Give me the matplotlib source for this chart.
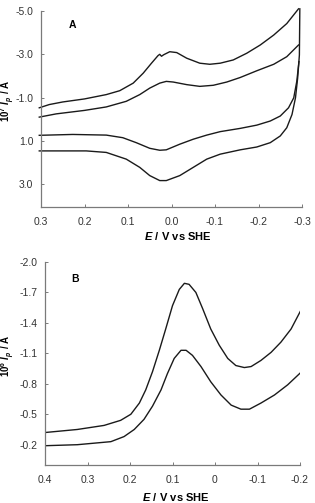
import matplotlib
matplotlib.use("Agg")
import matplotlib.pyplot as plt

plt.rcParams['font.family'] = ['Liberation Sans', 'DejaVu Sans']
plt.rcParams['mathtext.fontset'] = 'custom'
plt.rcParams['mathtext.rm'] = 'Liberation Sans:bold'
plt.rcParams['mathtext.it'] = 'Liberation Sans:italic:bold'
plt.rcParams['mathtext.bf'] = 'Liberation Sans:bold'

# ---- Panel A: cyclic voltammograms (10^7 I / A vs E / V) ----
a_outer_upper_E = [0.304, 0.281, 0.250, 0.200, 0.150, 0.119, 0.088, 0.065, 0.046, 0.031, 0.027,
                   0.023, 0.018, 0.004, -0.012, -0.035, -0.065, -0.088, -0.112, -0.142, -0.173,
                   -0.204, -0.235, -0.265, -0.292]
a_outer_upper_I = [-0.53, -0.68, -0.80, -0.94, -1.14, -1.32, -1.67, -2.13, -2.59, -2.94, -3.00,
                   -2.91, -2.98, -3.12, -3.08, -2.82, -2.59, -2.54, -2.59, -2.74, -3.05,
                   -3.43, -3.89, -4.42, -5.10]

a_inner_upper_E = [0.304, 0.265, 0.200, 0.150, 0.104, 0.073, 0.050, 0.027, 0.012, -0.004,
                   -0.035, -0.065, -0.096, -0.127, -0.158, -0.196, -0.235, -0.265, -0.292]
a_inner_upper_I = [-0.10, -0.25, -0.41, -0.57, -0.83, -1.14, -1.44, -1.67, -1.75, -1.72,
                   -1.60, -1.52, -1.57, -1.72, -1.93, -2.24, -2.54, -2.89, -3.43]

a_inner_lower_E = [0.304, 0.227, 0.150, 0.112, 0.081, 0.050, 0.027, 0.012, -0.019, -0.050,
                   -0.081, -0.112, -0.158, -0.196, -0.227, -0.250, -0.269, -0.281, -0.288, -0.293]
a_inner_lower_I = [0.74, 0.70, 0.73, 0.85, 1.08, 1.34, 1.43, 1.41, 1.15, 0.92,
                   0.73, 0.57, 0.42, 0.27, 0.08, -0.15, -0.53, -0.99, -1.75, -2.66]

a_outer_lower_E = [0.304, 0.196, 0.150, 0.104, 0.073, 0.050, 0.027, 0.012, -0.019, -0.050,
                   -0.081, -0.112, -0.158, -0.196, -0.227, -0.250, -0.265, -0.277, -0.285,
                   -0.290, -0.294, -0.295]
a_outer_lower_I = [1.46, 1.46, 1.53, 1.84, 2.22, 2.60, 2.83, 2.83, 2.60, 2.22,
                   1.84, 1.61, 1.41, 1.28, 1.08, 0.77, 0.39, -0.22, -0.99,
                   -1.90, -2.97, -5.10]

a_xticks = [0.3, 0.2, 0.1, 0.0, -0.1, -0.2, -0.3]
a_yticks = [-5.0, -3.0, -1.0, 1.0, 3.0]

# ---- Panel B: differential pulse voltammograms (10^6 I / A vs E / V) ----
b_upper_E = [0.400, 0.324, 0.261, 0.222, 0.198, 0.178, 0.163, 0.147, 0.131, 0.116, 0.100,
             0.084, 0.072, 0.061, 0.045, 0.029, 0.010, -0.010, -0.030, -0.049, -0.069,
             -0.085, -0.108, -0.132, -0.155, -0.179, -0.204]
b_upper_I = [-0.32, -0.35, -0.39, -0.44, -0.50, -0.61, -0.74, -0.92, -1.13, -1.34, -1.57,
             -1.73, -1.79, -1.78, -1.70, -1.54, -1.34, -1.18, -1.05, -0.98, -0.96,
             -0.97, -1.03, -1.11, -1.21, -1.34, -1.54]

b_lower_E = [0.400, 0.324, 0.245, 0.214, 0.190, 0.167, 0.147, 0.127, 0.112, 0.096, 0.080,
             0.068, 0.053, 0.033, 0.010, -0.014, -0.038, -0.061, -0.081, -0.108, -0.140,
             -0.171, -0.204]
b_lower_I = [-0.19, -0.20, -0.23, -0.28, -0.35, -0.45, -0.58, -0.74, -0.90, -1.05, -1.13,
             -1.13, -1.08, -0.97, -0.82, -0.69, -0.59, -0.55, -0.55, -0.61, -0.69,
             -0.79, -0.92]

b_xticks = [0.4, 0.3, 0.2, 0.1, 0.0, -0.1, -0.2]
b_xticklabels = ['0.4', '0.3', '0.2', '0.1', '0', '-0.1', '-0.2']
b_yticks = [-2.0, -1.7, -1.4, -1.1, -0.8, -0.5, -0.2]

fig = plt.figure(figsize=(3.15, 5.03), dpi=100)
W, H = 315, 503

def make_ax(l, r, t, b):
    return fig.add_axes([l / W, 1 - b / H, (r - l) / W, (b - t) / H])

spine_c = '#7a7a7a'
tick_c = '#333333'
line_c = '#1a1a1a'

def style(ax):
    for s in ['top', 'right']:
        ax.spines[s].set_visible(False)
    for s in ['left', 'bottom']:
        ax.spines[s].set_color(spine_c)
        ax.spines[s].set_linewidth(0.9)
    ax.tick_params(direction='in', length=2.5, width=0.7, color=spine_c,
                   labelsize=7.5, labelcolor=tick_c, pad=7)
    ax.tick_params(axis='y', pad=5.5)

# Panel A
axA = make_ax(41, 302, 11, 207)
style(axA)
for E, I in [(a_outer_upper_E, a_outer_upper_I), (a_inner_upper_E, a_inner_upper_I),
             (a_inner_lower_E, a_inner_lower_I), (a_outer_lower_E, a_outer_lower_I)]:
    axA.plot(E, I, color=line_c, lw=1.0, clip_on=False, solid_joinstyle='round')
axA.set_xlim(0.3, -0.3)
axA.set_ylim(4.05, -5.0)
axA.set_xticks(a_xticks)
axA.set_xticklabels(['%.1f' % v for v in a_xticks])
axA.set_yticks(a_yticks)
axA.set_yticklabels(['%.1f' % v for v in a_yticks])
fig.text(72 / W, 1 - 25 / H, 'A', fontsize=7.5, fontweight='bold', ha='center', va='center')
fig.text(178 / W, 1 - 236 / H, r'$E\ \mathrm{/\ V\ vs\ SHE}$', fontsize=8, ha='center', va='center')
fig.text(8 / W, 1 - 101 / H, r'$\mathrm{10^{7}}\ I_{p}\ \mathrm{/\ A}$', fontsize=7,
         rotation=90, ha='center', va='center')

# Panel B
axB = make_ax(45, 300, 262, 465)
style(axB)
for E, I in [(b_upper_E, b_upper_I), (b_lower_E, b_lower_I)]:
    axB.plot(E, I, color=line_c, lw=1.0, solid_joinstyle='round')
axB.set_xlim(0.4, -0.2)
axB.set_ylim(0.0, -2.0)
axB.set_xticks(b_xticks)
axB.set_xticklabels(b_xticklabels)
axB.set_yticks(b_yticks)
axB.set_yticklabels(['%.1f' % v for v in b_yticks])
fig.text(75 / W, 1 - 279 / H, 'B', fontsize=7.5, fontweight='bold', ha='center', va='center')
fig.text(176 / W, 1 - 497 / H, r'$E\ \mathrm{/\ V\ vs\ SHE}$', fontsize=8, ha='center', va='center')
fig.text(8 / W, 1 - 356 / H, r'$\mathrm{10^{6}}\ I_{p}\ \mathrm{/\ A}$', fontsize=7,
         rotation=90, ha='center', va='center')

fig.savefig('out.png', dpi=100)
